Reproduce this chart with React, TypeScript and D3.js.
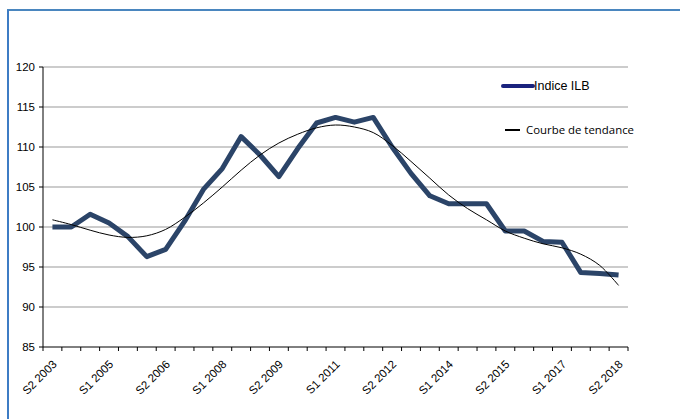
import React from "react";
import * as d3 from "d3";

const categories: string[] = [
  "S2 2003", "S1 2004", "S2 2004", "S1 2005", "S2 2005", "S1 2006", "S2 2006", "S1 2007",
  "S2 2007", "S1 2008", "S2 2008", "S1 2009", "S2 2009", "S1 2010", "S2 2010", "S1 2011",
  "S2 2011", "S1 2012", "S2 2012", "S1 2013", "S2 2013", "S1 2014", "S2 2014", "S1 2015",
  "S2 2015", "S1 2016", "S2 2016", "S1 2017", "S2 2017", "S1 2018", "S2 2018",
];

const ilbValues: number[] = [
  100.0, 100.0, 101.6, 100.5, 98.8, 96.3, 97.2, 100.7,
  104.7, 107.3, 111.3, 109.0, 106.3, 109.8, 113.0, 113.7,
  113.1, 113.7, 110.0, 106.7, 103.9, 102.9, 102.9, 102.9,
  99.5, 99.5, 98.2, 98.1, 94.3, 94.2, 94.0,
];

const trendValues: number[] = [
  100.9, 100.3, 99.6, 99.0, 98.7, 98.9, 99.7, 101.2,
  103.0, 105.0, 107.1, 109.0, 110.5, 111.6, 112.4, 112.75,
  112.5, 111.8, 110.2, 108.2, 106.1, 104.0, 102.3, 100.9,
  99.5, 98.6, 97.9, 97.4, 96.6, 95.2, 92.7,
];

const yTicks: number[] = [85, 90, 95, 100, 105, 110, 115, 120];
const labelEvery = 3;

const seriesName = "Indice ILB";
const trendName = "Courbe de tendance";

export default function App() {
  const W = 680;
  const H = 419;
  const left = 43;
  const right = 628;
  const top = 67;
  const bottom = 347;

  const x = d3.scaleBand<string>().domain(categories).range([left, right]).paddingInner(0).paddingOuter(0);
  const y = d3.scaleLinear().domain([85, 120]).range([bottom, top]);
  const cx = (c: string) => (x(c) as number) + x.bandwidth() / 2;

  const line = d3
    .line<number>()
    .x((_, i) => cx(categories[i]))
    .y((d) => y(d));
  const trendLine = d3
    .line<number>()
    .x((_, i) => cx(categories[i]))
    .y((d) => y(d))
    .curve(d3.curveCatmullRom.alpha(0.5));

  const tickXs = categories.map((c) => x(c) as number).concat([right]);

  const font = "'Liberation Sans', Arial, sans-serif";

  return (
    <svg width={W} height={H} style={{ position: "absolute", left: 0, top: 0, background: "#fff" }}>
      {/* outer frame */}
      <line x1={7} x2={W} y1={10} y2={10} stroke="#4a86bf" strokeWidth={2} />
      <line x1={8} x2={8} y1={10} y2={H} stroke="#3d7cc4" strokeWidth={2} />

      {/* grid */}
      {yTicks.filter((t) => t !== 85).map((t) => (
        <line key={"g" + t} x1={left} x2={right} y1={y(t)} y2={y(t)} stroke="#9a9a9a" strokeWidth={1.2} />
      ))}

      {/* y axis */}
      <line x1={left} x2={left} y1={top} y2={bottom} stroke="#000" strokeWidth={1} />
      {yTicks.map((t) => (
        <g key={"y" + t}>
          <line x1={left - 4} x2={left} y1={y(t)} y2={y(t)} stroke="#000" />
          <text x={35} y={y(t) + 4} textAnchor="end" fontSize={11.5} fontFamily={font} fill="#000">
            {t}
          </text>
        </g>
      ))}

      {/* x axis */}
      <line x1={left} x2={right} y1={bottom} y2={bottom} stroke="#000" strokeWidth={1} />
      {tickXs.map((tx, i) => (
        <line key={"xt" + i} x1={tx} x2={tx} y1={bottom} y2={bottom + 4} stroke="#000" />
      ))}
      {categories.map((c, i) =>
        i % labelEvery === 0 ? (
          <text
            key={"xl" + c}
            transform={`translate(${cx(c) + 5},${bottom + 18}) rotate(-45)`}
            textAnchor="end"
            fontSize={11.5}
            fontFamily={font}
            fill="#000"
          >
            {c}
          </text>
        ) : null
      )}

      {/* series */}
      <path d={line(ilbValues) || ""} fill="none" stroke="#2b4468" strokeWidth={5} strokeLinejoin="round" />
      <path d={trendLine(trendValues) || ""} fill="none" stroke="#000" strokeWidth={1} />

      {/* legend */}
      <line x1={503} x2={533} y1={86} y2={86} stroke="#1a237e" strokeWidth={4} strokeLinecap="round" />
      <text x={534} y={90} fontSize={12.5} fontFamily={font} fill="#000">
        {seriesName}
      </text>
      <line x1={505} x2={520} y1={130} y2={130} stroke="#000" strokeWidth={2} />
      <text x={526} y={134} fontSize={11} fontFamily="'Open Sans', sans-serif" fill="#000" textLength={108} lengthAdjust="spacingAndGlyphs">
        {trendName}
      </text>
    </svg>
  );
}
